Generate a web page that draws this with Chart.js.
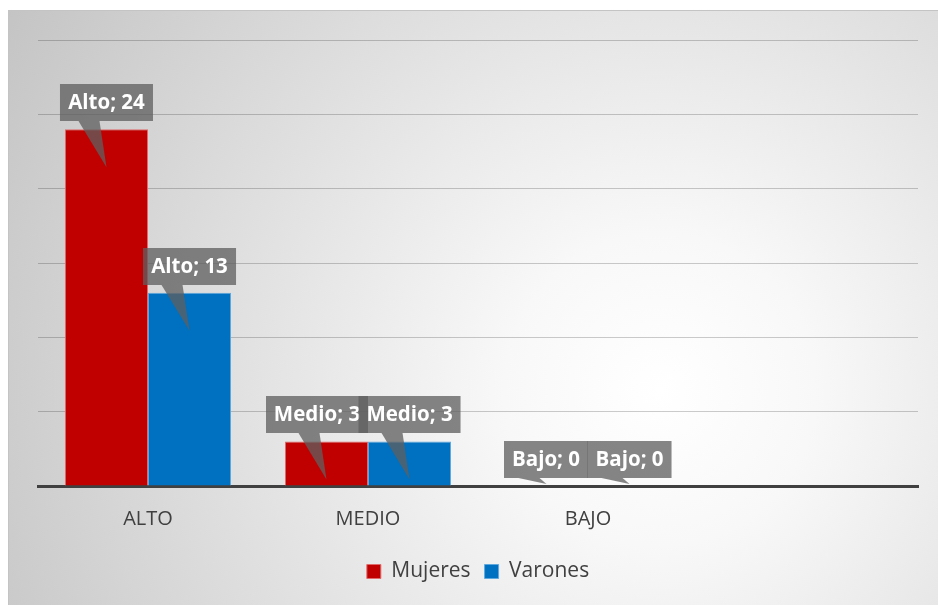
<!DOCTYPE html>
<html>
<head>
<meta charset="utf-8">
<script src="https://cdn.jsdelivr.net/npm/chart.js@4.4.1/dist/chart.umd.min.js"></script>
<style>
  html, body { margin: 0; padding: 0; background: #ffffff; }
  #wrap { width: 938px; height: 605px; position: relative; }
</style>
</head>
<body>
<div id="wrap"><canvas id="c" width="938" height="605"></canvas></div>
<script>
const categories = ['ALTO', 'MEDIO', 'BAJO', ''];
const labelNames = ['Alto', 'Medio', 'Bajo'];
const seriesNames = ['Mujeres', 'Varones'];
const mujeres = [24, 3, 0];
const varones = [13, 3, 0];
const yMin = 0, yMax = 30, yStep = 5;

const bgPlugin = {
  id: 'bg',
  beforeDraw(chart) {
    const ctx = chart.ctx;
    ctx.save();
    ctx.fillStyle = '#ffffff';
    ctx.fillRect(0, 0, chart.width, chart.height);
    const g = ctx.createRadialGradient(660, 390, 0, 660, 390, 780);
    g.addColorStop(0, '#ffffff');
    g.addColorStop(0.2, '#f8f8f8');
    g.addColorStop(1, '#c2c2c2');
    ctx.fillStyle = g;
    ctx.fillRect(8, 10, chart.width - 8, chart.height - 10);
    ctx.strokeStyle = '#c4c4c4';
    ctx.lineWidth = 1;
    ctx.strokeRect(8.5, 10.5, chart.width - 8, chart.height - 10);
    ctx.restore();
  }
};

const calloutPlugin = {
  id: 'callouts',
  afterDatasetsDraw(chart) {
    const ctx = chart.ctx;
    const base = chart.scales.y.getPixelForValue(0);
    ctx.save();
    ctx.font = 'bold 20.5px "Open Sans"';
    const boxes = [];
    chart.data.datasets.forEach((ds, di) => {
      const meta = chart.getDatasetMeta(di);
      meta.data.forEach((bar, i) => {
        const v = ds.data[i];
        if (v === null || v === undefined) return;
        const text = labelNames[i] + '; ' + v;
        const w = Math.round(ctx.measureText(text).width + 16);
        const h = 37;
        const bottom = Math.round(bar.y - 8);
        boxes.push({di, i, x: bar.x - w / 2, y: bottom - h, w, h, text, bx: bar.x, by: bar.y});
      });
    });
    // nudge first-series boxes left when they collide with the neighbour box
    boxes.forEach(b => {
      if (b.di !== 0) return;
      const o = boxes.find(q => q.di === 1 && q.i === b.i);
      if (!o) return;
      const vOverlap = b.y < o.y + o.h && o.y < b.y + b.h;
      const hOverlap = (b.x + b.w) - o.x;
      if (vOverlap && hOverlap > 0) b.x -= hOverlap / 2;
    });
    boxes.sort((a, b) => a.i - b.i || a.di - b.di);
    boxes.forEach(b => {
      ctx.fillStyle = 'rgba(95,95,95,0.76)';
      ctx.fillRect(b.x, b.y, b.w, b.h);
      const tipX = b.bx;
      const tipY = Math.min(b.by + 38, base - 2);
      const bottom = b.y + b.h;
      ctx.beginPath();
      ctx.moveTo(b.bx - 28, bottom);
      ctx.lineTo(b.bx - 7, bottom);
      ctx.lineTo(tipX, tipY);
      ctx.closePath();
      ctx.fill();
      ctx.fillStyle = '#ffffff';
      ctx.textAlign = 'center';
      ctx.textBaseline = 'middle';
      ctx.fillText(b.text, b.x + b.w / 2, b.y + b.h / 2 + 1);
    });
    ctx.restore();
  }
};

new Chart(document.getElementById('c'), {
  type: 'bar',
  data: {
    labels: categories,
    datasets: [
      { label: seriesNames[0], data: mujeres, backgroundColor: '#C00000', borderColor: '#E06A6A', borderWidth: 1 },
      { label: seriesNames[1], data: varones, backgroundColor: '#0070C0', borderColor: '#5FA8DE', borderWidth: 1 }
    ]
  },
  options: {
    responsive: false,
    animation: false,
    devicePixelRatio: 1,
    categoryPercentage: 0.755,
    barPercentage: 1.0,
    layout: { padding: { left: 38, right: 20, top: 40, bottom: 13 } },
    plugins: {
      legend: {
        position: 'bottom',
        labels: {
          color: '#404040',
          font: { family: '"Open Sans"', size: 21 },
          boxWidth: 14,
          boxHeight: 14,
          padding: 14
        }
      },
      tooltip: { enabled: false }
    },
    scales: {
      x: {
        grid: { display: false, drawTicks: false },
        border: { display: true, color: '#404040', width: 3 },
        ticks: { color: '#404040', font: { family: '"Open Sans"', size: 20 }, padding: 21 },
        afterFit(scale) { scale.height = 61; }
      },
      y: {
        min: yMin, max: yMax,
        ticks: { display: false, stepSize: yStep },
        grid: {
          drawTicks: false,
          color: ctx => ctx.tick && ctx.tick.value === 0 ? 'rgba(0,0,0,0)' : 'rgba(0,0,0,0.2)',
          lineWidth: 1
        },
        border: { display: false }
      }
    }
  },
  plugins: [bgPlugin, calloutPlugin]
});
</script>
</body>
</html>
